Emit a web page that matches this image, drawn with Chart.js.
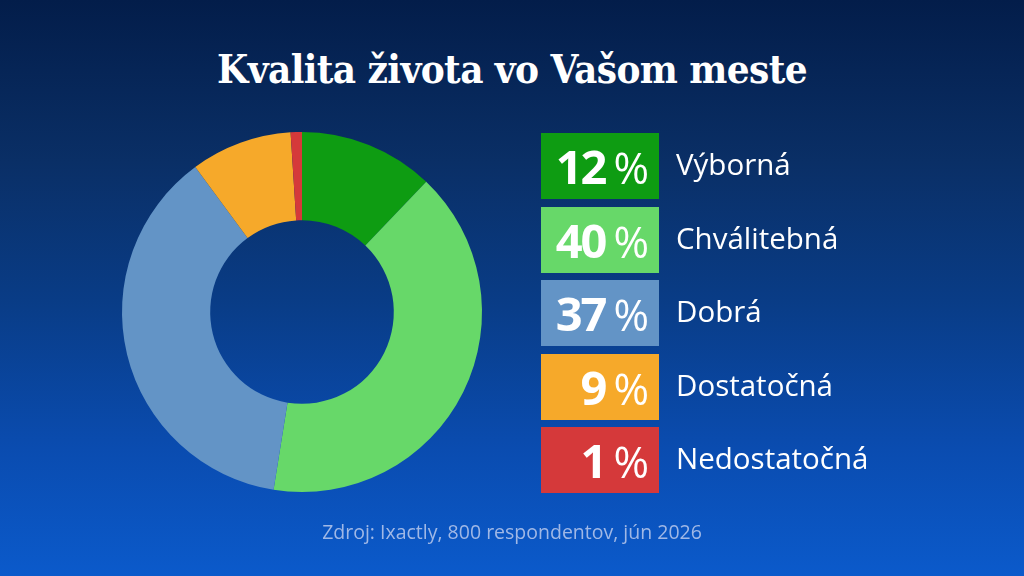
<!DOCTYPE html>
<html>
<head>
<meta charset="utf-8">
<script src="https://cdn.jsdelivr.net/npm/chart.js@4"></script>
<style>
  html, body { margin:0; padding:0; }
  body { width:1024px; height:576px; overflow:hidden; position:relative;
    background: linear-gradient(to bottom, #031d4a 0%, #0a2f66 28%, #093c86 52%, #0a4cb0 78%, #0b5acb 100%);
    font-family: "Open Sans", "Noto Sans", sans-serif; }
  #title { position:absolute; left:0; top:45px; width:1024px; text-align:center; margin:0;
    font-family: "DejaVu Serif", serif; font-weight:bold; font-stretch: condensed; font-size:40px;
    color:#fff; letter-spacing:-0.6px; }
  #chartWrap { position:absolute; left:0; top:0; width:1024px; height:576px; }
  #legend { position:absolute; left:541px; top:133px; }
  .row { position:absolute; left:0; height:66px; width:400px; }
  .box { position:absolute; left:0; top:0; width:118px; height:66px; }
  .pct { position:absolute; right:10px; top:0; height:66px; line-height:66px; color:#fff; white-space:nowrap; }
  .num { font-weight:700; font-size:47px; letter-spacing:-2px; }
  .sign { font-weight:500; font-size:43px; margin-left:8px; }
  .lab { position:absolute; left:135px; top:0; height:66px; line-height:62px; color:#fff;
    font-size:29.5px; font-weight:500; white-space:nowrap; }
  #source { position:absolute; left:0; width:1024px; top:518px; text-align:center; color:#a0b8e6;
    font-size:19.5px; }
</style>
</head>
<body>
<h1 id="title">Kvalita života vo Vašom meste</h1>
<div id="chartWrap"><canvas id="c" width="1024" height="576"></canvas></div>
<div id="legend"></div>
<div id="source">Zdroj: Ixactly, 800 respondentov, jún 2026</div>
<script>
const categories = ["Výborná", "Chválitebná", "Dobrá", "Dostatočná", "Nedostatočná"];
const values = [12, 40, 37, 9, 1];
const colors = ["#0e9c12", "#67d869", "#6394c6", "#f6a92a", "#d5393a"];

const legend = document.getElementById('legend');
categories.forEach((cat, i) => {
  const row = document.createElement('div');
  row.className = 'row';
  row.style.top = (i * 73.5) + 'px';
  row.innerHTML = '<div class="box" style="background:' + colors[i] + '"><div class="pct"><span class="num">' +
    values[i] + '</span><span class="sign">%</span></div></div><div class="lab">' + cat + '</div>';
  legend.appendChild(row);
});

new Chart(document.getElementById('c'), {
  type: 'doughnut',
  data: {
    labels: categories,
    datasets: [{ data: values, backgroundColor: colors, borderWidth: 0, hoverOffset: 0 }]
  },
  options: {
    responsive: false,
    animation: false,
    cutout: '51%',
    rotation: 0,
    layout: { padding: { left: 122, right: 542, top: 132, bottom: 84 } },
    plugins: { legend: { display: false }, title: { display: false }, tooltip: { enabled: false } }
  }
});
</script>
</body>
</html>
